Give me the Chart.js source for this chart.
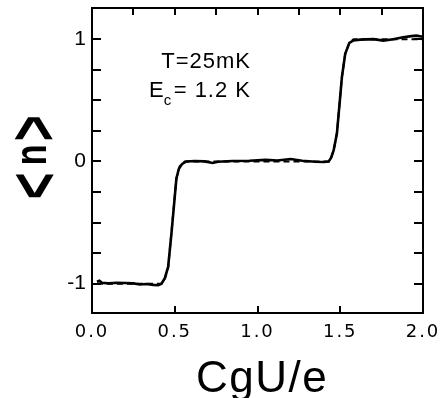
<!DOCTYPE html>
<html><head><meta charset="utf-8">
<script src="https://cdn.jsdelivr.net/npm/chart.js@4/dist/chart.umd.min.js"></script>
<style>html,body{margin:0;padding:0;background:#fff;}#wrap{width:443px;height:398px;}</style>
</head><body><div id="wrap"><canvas id="c" width="443" height="398"></canvas></div>
<script>
const measuredX = [0.03,0.045,0.06,0.10,0.15,0.20,0.25,0.29,0.33,0.37,0.40,0.42,0.44,0.46,0.48,0.50,0.51,0.525,0.545,0.57,0.62,0.68,0.73,0.76,0.85,0.95,1.05,1.12,1.20,1.27,1.35,1.40,1.43,1.445,1.46,1.48,1.51,1.53,1.555,1.58,1.62,1.70,1.76,1.82,1.88,1.93,1.96,2.0];
const measuredY = [-0.985,-0.977,-0.993,-0.998,-0.993,-0.995,-0.998,-1.007,-1.003,-1.01,-1.012,-1.0,-0.955,-0.863,-0.59,-0.29,-0.14,-0.06,-0.02,0.0,0.004,0.0,-0.013,-0.003,0.003,0.006,0.013,0.008,0.02,0.005,-0.003,-0.005,0.0,0.03,0.09,0.23,0.69,0.88,0.97,0.99,0.996,1.0,0.988,1.0,1.015,1.025,1.029,1.02];
const theoryX = [0.03,0.42,0.44,0.46,0.51,0.53,0.56,1.43,1.445,1.46,1.48,1.51,1.53,1.555,1.58,2.0];
const theoryY = [-1,-1,-0.96,-0.87,-0.14,-0.04,0,0,0.03,0.09,0.23,0.69,0.88,0.97,1.0,1.0];
const xTickValues = [0,0.5,1,1.5,2];
const xTickLabels = ['0.0','0.5','1.0','1.5','2.0'];
const yTickValues = [-1,0,1];
const yTickLabels = ['-1','0','1'];
const xMinorTop = [0.25,0.5,0.75,1,1.25,1.5,1.75];
const xMinorBottom = [0.5,1,1.5];
const yMinor = [-1,-0.75,-0.5,-0.25,0,0.25,0.5,0.75,1];
const xTitle = 'CgU/e';
const yTitleParts = ['<','n','>'];
const noteLine1 = 'T=25mK';
const noteLine2Main = 'E';
const noteLine2Sub = 'c';
const noteLine2Rest = '= 1.2 K';

const FONT = "'Liberation Sans', Arial, sans-serif";
const TICKFONT = "'DejaVu Sans', sans-serif";

function toPts(xs, ys){ return xs.map((x,i)=>({x:x, y:ys[i]})); }

function drawGlyphFit(ctx, ch, font, cx, cy, along, across){
  ctx.save();
  ctx.font = font;
  ctx.textAlign = 'left';
  ctx.textBaseline = 'alphabetic';
  const m = ctx.measureText(ch);
  const L = m.actualBoundingBoxLeft, R = m.actualBoundingBoxRight;
  const A = m.actualBoundingBoxAscent, D = m.actualBoundingBoxDescent;
  const w = L + R, h = A + D;
  const gx = (R - L) / 2, gy = (D - A) / 2;
  ctx.translate(cx, cy);
  ctx.rotate(-Math.PI / 2);
  ctx.scale(along / w, across / h);
  ctx.fillStyle = '#000';
  ctx.fillText(ch, -gx, -gy);
  ctx.restore();
}

const framePlugin = {
  id: 'framePlugin',
  beforeDraw(chart){ chart.ctx.letterSpacing = '2px'; },
  beforeDatasetsDraw(chart){ chart.ctx.letterSpacing = '0px'; },
  afterDraw(chart){
    const ctx = chart.ctx;
    const a = chart.chartArea;
    const xs = chart.scales.x, ys = chart.scales.y;
    ctx.save();
    ctx.letterSpacing = '0px';
    ctx.strokeStyle = '#000';
    ctx.lineWidth = 2;
    ctx.strokeRect(a.left, a.top, a.right - a.left, a.bottom - a.top);
    const TL = 9;
    ctx.beginPath();
    yMinor.forEach(v => {
      const p = Math.round(ys.getPixelForValue(v));
      ctx.moveTo(a.left, p); ctx.lineTo(a.left + TL, p);
      ctx.moveTo(a.right, p); ctx.lineTo(a.right - TL, p);
    });
    xMinorTop.forEach(v => {
      const p = Math.round(xs.getPixelForValue(v));
      ctx.moveTo(p, a.top); ctx.lineTo(p, a.top + 7);
    });
    xMinorBottom.forEach(v => {
      const p = Math.round(xs.getPixelForValue(v));
      ctx.moveTo(p, a.bottom); ctx.lineTo(p, a.bottom - 7);
    });
    ctx.stroke();

    // x title
    ctx.fillStyle = '#000';
    ctx.font = '44px ' + FONT;
    ctx.letterSpacing = '1.5px';
    ctx.textAlign = 'center';
    ctx.textBaseline = 'alphabetic';
    ctx.fillText(xTitle, 262, 392);
    ctx.letterSpacing = '0px';

    // y title (rotated, stretched glyphs)
    const bf = 'bold 40px ' + FONT;
    drawGlyphFit(ctx, yTitleParts[0], bf, 34, 186, 24, 41);
    drawGlyphFit(ctx, yTitleParts[1], bf, 34, 155, 17, 24);
    drawGlyphFit(ctx, yTitleParts[2], bf, 33.5, 128.5, 23, 40);

    // annotation
    ctx.font = '22px ' + FONT;
    ctx.letterSpacing = '1px';
    ctx.textAlign = 'right';
    ctx.fillText(noteLine1, 251, 68);
    ctx.fillText(noteLine2Rest, 251, 97);
    ctx.textAlign = 'left';
    ctx.fillText(noteLine2Main, 149, 97);
    const wE = ctx.measureText(noteLine2Main).width;
    ctx.font = '15px ' + FONT;
    ctx.fillText(noteLine2Sub, 149 + wE - 1, 105);
    ctx.restore();
  }
};

new Chart(document.getElementById('c'), {
  type: 'scatter',
  data: {
    datasets: [
      { data: toPts(theoryX, theoryY), showLine: true, borderColor: '#000', borderWidth: 2, borderDash: [6,4], pointRadius: 0, tension: 0, fill: false },
      { data: toPts(measuredX, measuredY), showLine: true, borderColor: '#000', borderWidth: 2.6, pointRadius: 0, tension: 0, fill: false }
    ]
  },
  options: {
    responsive: false,
    animation: false,
    devicePixelRatio: 1,
    layout: { padding: { top: 8, right: 20, left: 0, bottom: 0 } },
    plugins: { legend: { display: false }, tooltip: { enabled: false } },
    scales: {
      x: {
        type: 'linear', min: 0, max: 2,
        afterFit: s => { s.height = 85; s.paddingLeft = 0; s.paddingRight = 0; },
        afterBuildTicks: s => { s.ticks = xTickValues.map(v => ({ value: v })); },
        ticks: { callback: (v, i) => xTickLabels[i], font: { family: TICKFONT, size: 18 }, color: '#000', padding: 9, maxRotation: 0, autoSkip: false },
        grid: { display: false, drawTicks: false },
        border: { display: false }
      },
      y: {
        type: 'linear', min: -1.24, max: 1.255,
        afterFit: s => { s.width = 92; s.paddingTop = 0; s.paddingBottom = 0; },
        afterBuildTicks: s => { s.ticks = yTickValues.map(v => ({ value: v })); },
        ticks: { callback: (v, i) => yTickLabels[i], font: { family: FONT, size: 21 }, color: '#000', padding: 6, autoSkip: false, z: 1 },
        grid: { display: false, drawTicks: false },
        border: { display: false }
      }
    }
  },
  plugins: [framePlugin]
});
</script>
</body></html>
